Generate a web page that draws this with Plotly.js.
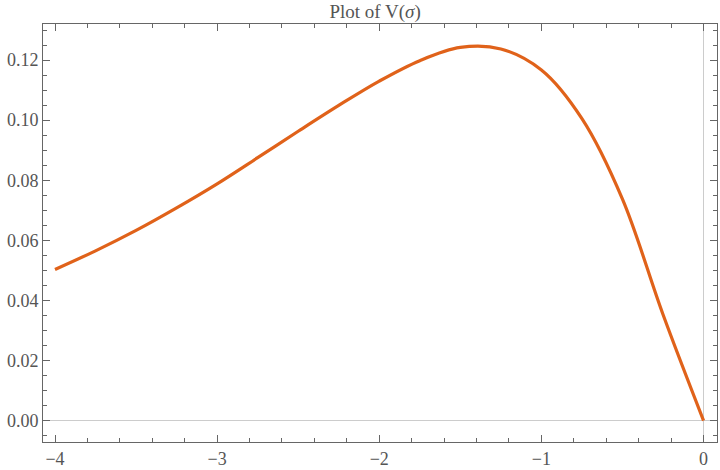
<!DOCTYPE html>
<html>
<head>
<meta charset="utf-8">
<script src="https://cdn.plot.ly/plotly-3.0.1.min.js"></script>
<style>html,body{margin:0;padding:0;background:#fff;}#chart{width:720px;height:470px;}</style>
</head>
<body>
<div id="chart"></div>
<script>
const sigma = [-4.0, -3.75, -3.5, -3.25, -3.0, -2.75, -2.5, -2.25, -2.0, -1.75, -1.5, -1.25, -1.0, -0.75, -0.5, -0.25, 0.0];
const V = [0.0503, 0.0565, 0.0633, 0.0708, 0.0788, 0.0875, 0.0963, 0.1049, 0.1130, 0.1198, 0.1242, 0.1237, 0.1167, 0.1005, 0.0737, 0.0353, 0.0];
const xTicks = [-4, -3, -2, -1, 0];
const yTicks = [0.00, 0.02, 0.04, 0.06, 0.08, 0.10, 0.12];

const frameColor = '#666666';
const font = {family: 'Liberation Serif, DejaVu Serif, serif', size: 18, color: '#555555'};

const trace = {
  x: sigma, y: V, type: 'scatter', mode: 'lines',
  line: {color: 'rgb(224,98,26)', width: 3.2, shape: 'spline', smoothing: 1},
  hoverinfo: 'skip'
};

const layout = {
  width: 720, height: 470,
  margin: {l: 43, r: 3, t: 24, b: 28, pad: 0},
  paper_bgcolor: '#ffffff', plot_bgcolor: '#ffffff',
  showlegend: false,
  font: font,
  title: {text: 'Plot of V(<i>σ</i>)', x: 0.521, xanchor: 'center', y: 0.99, yanchor: 'top',
          font: {family: 'Liberation Serif, DejaVu Serif, serif', size: 19, color: '#555555'}},
  xaxis: {
    range: [-4.074, 0.083], tickvals: xTicks, ticktext: xTicks.map(v => v < 0 ? '\u2212' + Math.abs(v) : String(v)),
    showgrid: false, zeroline: true, zerolinecolor: '#cccccc', zerolinewidth: 1,
    showline: true, linecolor: frameColor, linewidth: 1, mirror: 'allticks',
    ticks: 'inside', ticklen: 7, tickwidth: 1, tickcolor: frameColor,
    minor: {dtick: 0.2, ticks: 'inside', ticklen: 4, tickcolor: frameColor, showgrid: false},
    tickfont: font, fixedrange: true
  },
  yaxis: {
    range: [-0.00713, 0.132], tickvals: yTicks, ticktext: yTicks.map(v => v.toFixed(2)),
    showgrid: false, zeroline: true, zerolinecolor: '#cccccc', zerolinewidth: 1,
    showline: true, linecolor: frameColor, linewidth: 1, mirror: 'allticks',
    ticks: 'inside', ticklen: 7, tickwidth: 1, tickcolor: frameColor,
    minor: {dtick: 0.005, tick0: 0, ticks: 'inside', ticklen: 4, tickcolor: frameColor, showgrid: false},
    tickfont: font, fixedrange: true
  }
};

Plotly.newPlot('chart', [trace], layout, {staticPlot: true, displayModeBar: false});
</script>
</body>
</html>
